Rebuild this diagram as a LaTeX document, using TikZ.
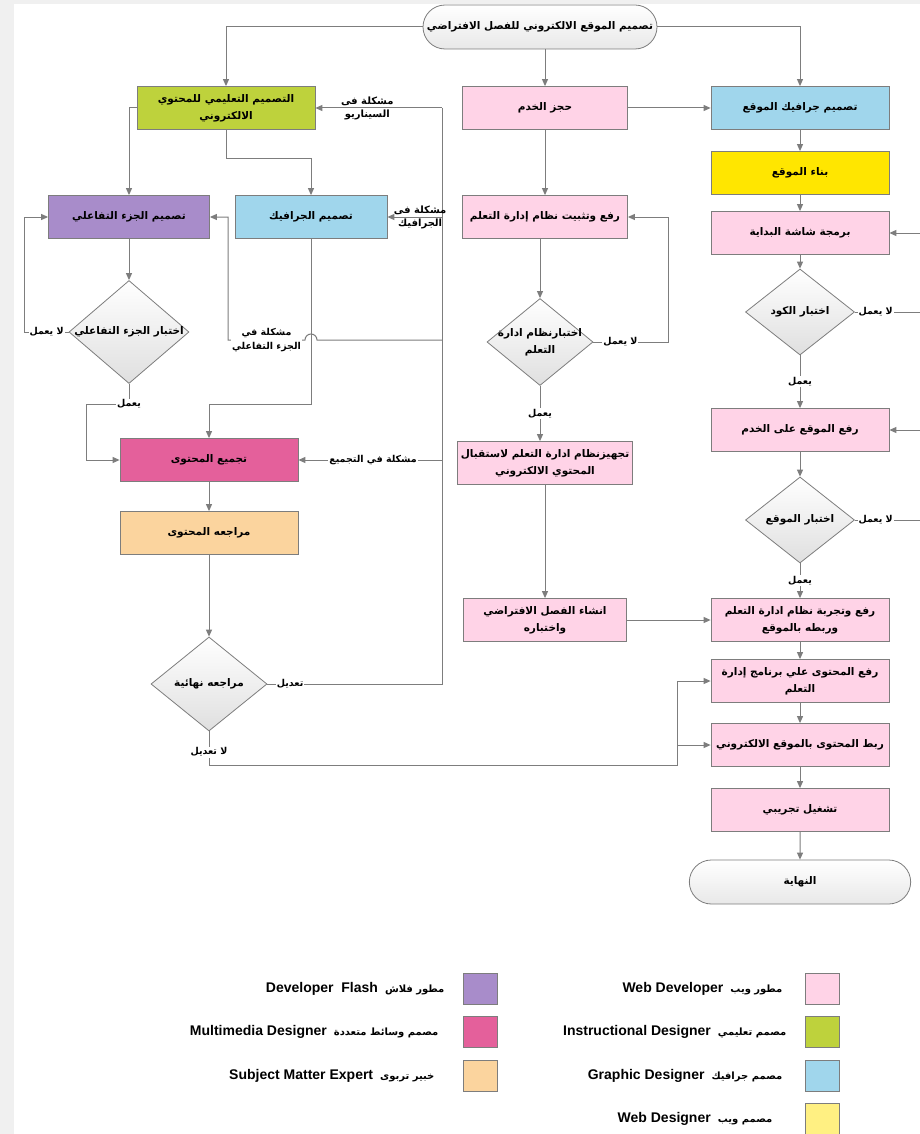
\documentclass[tikz,border=0pt]{standalone}
\usepackage{fontspec}
\setmainfont{Liberation Sans}
\newfontfamily\arabicfont[Script=Arabic]{DejaVu Sans}
\TeXXeTstate=1
\usetikzlibrary{arrows.meta,positioning,shapes.geometric,shapes.misc}
\definecolor{webdev}{RGB}{255,211,231}
\definecolor{instr}{RGB}{190,210,60}
\definecolor{graphic}{RGB}{160,214,236}
\definecolor{webdes}{RGB}{255,230,0}
\definecolor{webdeskey}{RGB}{255,240,130}
\definecolor{flash}{RGB}{168,140,202}
\definecolor{multim}{RGB}{228,96,155}
\definecolor{expert}{RGB}{251,212,158}
\definecolor{edge}{RGB}{125,125,125}
\definecolor{bgstrip}{RGB}{240,240,240}
\newcommand{\artext}[1]{{\arabicfont\bfseries\beginR #1\endR}}
\newcommand{\nowidth}[1]{\makebox[0pt]{\arabicfont\bfseries\beginR #1\endR}}
\newcommand{\keytext}[2]{\beginR{\arabicfont\bfseries\fontsize{10}{12}\selectfont #1}\hspace{7pt}\beginL{\bfseries #2}\endL\endR}
\tikzset{%
	process/.style  = {draw=edge, line width=0.8pt, rectangle, minimum width=178, minimum height=43, text centered, align=center, font=\fontsize{10.5}{17}\selectfont},
	decision/.style = {draw=edge, line width=0.8pt, diamond, top color=white, bottom color=gray!25, inner sep=0pt, align=center, font=\fontsize{10.5}{17}\selectfont},
	startstop/.style= {draw=edge, line width=0.8pt, rounded rectangle, top color=white, bottom color=gray!18, minimum width=228, minimum height=44, font=\fontsize{10.5}{17}\selectfont},
	arrow/.style    = {draw=edge, line width=1pt, -{Triangle[length=7pt,width=6pt]}},
	link/.style     = {draw=edge, line width=1pt},
	tag/.style      = {fill=white, inner sep=1pt, align=center, font=\fontsize{9.5}{14}\selectfont},
	note/.style     = {inner sep=1.5pt, font=\fontsize{10}{13}\selectfont},
	key/.style      = {draw=edge, line width=0.8pt, minimum width=34, minimum height=31},
	keylabel/.style = {inner sep=0pt, font=\fontsize{14}{16}\selectfont},
}
\begin{document}
\begin{tikzpicture}[x=1pt,y=-1pt]
	\useasboundingbox (0,0) rectangle (920,1134);
	\fill[bgstrip] (0,0) rectangle (920,1134);
	\fill[white] (14,4) rectangle (920,1134);

	% rails and bends
	\coordinate (rightrail) at (924,0);
	\coordinate (fixrail) at (442,0);
	\coordinate (mergey) at (0,404);
	\coordinate (okbend) at (86,404);
	\coordinate (hopy) at (0,340);
	\coordinate (ibend) at (228,340);
	\coordinate (nofixbend) at (677,765);

	\node[startstop] (start) at (540,27) {\artext{تصميم الموقع الالكتروني للفصل الافتراضي}};

	% web site column
	\node[process, fill=graphic] (sitegfx) at (800,108) {\artext{تصميم جرافيك الموقع}};
	\node[process, fill=webdes] (build) at (800,173) {\artext{بناء الموقع}};
	\node[process, fill=webdev] (splash) at (800,233) {\artext{برمجة شاشة البداية}};
	\node[decision, minimum width=109, minimum height=86] (codetest) at (800,312) {\nowidth{اختبار الكود}};
	\node[process, fill=webdev] (upload) at (800,430) {\artext{رفع الموقع على الخدم}};
	\node[decision, minimum width=109, minimum height=86] (sitetest) at (800,520) {\nowidth{اختبار الموقع}};
	\node[process, fill=webdev] (lmslink) at (800,620) {\artext{رفع وتجربة نظام ادارة التعلم}\\\artext{وربطه بالموقع}};
	\node[process, fill=webdev] (contup) at (800,681) {\artext{رفع المحتوى علي برنامج إدارة}\\\artext{التعلم}};
	\node[process, fill=webdev] (contlink) at (800,745) {\artext{ربط المحتوى بالموقع الالكتروني}};
	\node[process, fill=webdev] (trial) at (800,810) {\artext{تشغيل تجريبي}};
	\node[startstop] (finish) at (800,882) {\artext{النهاية}};

	% lms column
	\node[process, fill=webdev, minimum width=165] (server) at (545,108) {\artext{حجز الخدم}};
	\node[process, fill=webdev, minimum width=165] (lmsinst) at (545,217) {\artext{رفع وتثبيت نظام إدارة التعلم}};
	\node[decision, minimum width=106, minimum height=87] (lmstest) at (540,342) {\nowidth{اختبارنظام ادارة}\\\nowidth{التعلم}};
	\node[process, fill=webdev, minimum width=168] (lmsprep) at (545,463) {\artext{تجهيزنظام ادارة التعلم لاستقبال}\\\artext{المحتوي الالكتروني}};
	\node[process, fill=webdev, minimum width=163] (vclass) at (545,620) {\artext{انشاء الفصل الافتراضي}\\\artext{واختباره}};

	% content column
	\node[process, fill=instr] (instrbox) at (226,108) {\artext{التصميم التعليمي للمحتوي}\\\artext{الالكتروني}};
	\node[process, fill=flash, minimum width=161] (flashbox) at (129,217) {\artext{تصميم الجزء التفاعلي}};
	\node[process, fill=graphic, minimum width=152] (gfx) at (311,217) {\artext{تصميم الجرافيك}};
	\node[decision, minimum width=120, minimum height=103] (itest) at (129,332) {\nowidth{اختبار الجزء التفاعلي}};
	\node[process, fill=multim] (assemble) at (209,460) {\artext{تجميع المحتوى}};
	\node[process, fill=expert] (review) at (209,533) {\artext{مراجعه المحتوى}};
	\node[decision, minimum width=116, minimum height=94] (final) at (209,684) {\nowidth{مراجعه نهائية}};

	% start
	\draw[arrow] (start.west) -| (instrbox.north);
	\draw[arrow] (start.east) -| (sitegfx.north);
	\draw[arrow] (server.north |- start.south) -- (server.north);

	% web site
	\draw[arrow] (server) -- (sitegfx);
	\draw[arrow] (sitegfx) -- (build);
	\draw[arrow] (build) -- (splash);
	\draw[arrow] (splash) -- (codetest);
	\draw[arrow] (codetest) -- node[tag] {\artext{يعمل}} (upload);
	\draw[arrow] (codetest.east) -- node[tag, pos=0.3] {\artext{لا يعمل}} (codetest.east -| rightrail) |- (splash.east);
	\draw[arrow] (upload) -- (sitetest);
	\draw[arrow] (sitetest) -- node[tag] {\artext{يعمل}} (lmslink);
	\draw[arrow] (sitetest.east) -- node[tag, pos=0.3] {\artext{لا يعمل}} (sitetest.east -| rightrail) |- (upload.east);
	\draw[arrow] (lmslink) -- (contup);
	\draw[arrow] (contup) -- (contlink);
	\draw[arrow] (contlink) -- (trial);
	\draw[arrow] (trial) -- (finish);

	% lms
	\draw[arrow] (server) -- (lmsinst.north -| server);
	\draw[arrow] (lmsinst.south -| lmstest) -- (lmstest);
	\draw[arrow] (lmstest) -- node[tag] {\artext{يعمل}} (lmsprep.north -| lmstest);
	\draw[arrow] (lmstest.east) -- node[tag, pos=0.36] {\artext{لا يعمل}} ([xshift=75pt]lmstest.east) |- (lmsinst.east);
	\draw[arrow] (lmsprep) -- (vclass);
	\draw[arrow] (vclass) -- (lmslink);

	% content
	\draw[arrow] (instrbox.west) -| (flashbox.north);
	\draw[arrow] (instrbox.south) -- ([yshift=-29pt]instrbox.south) -| (gfx.north);
	\draw[arrow] (flashbox) -- (itest);
	\draw[arrow] (itest.west) -- node[tag, pos=0.5] {\artext{لا يعمل}} ([xshift=-44pt]itest.west) |- (flashbox.west);
	\draw[arrow] (itest.south) -- (itest.south |- okbend) node[tag] {\artext{يعمل}} -- (okbend) |- (assemble.west);
	\draw[arrow] (gfx.south) -- (gfx.south |- mergey) -| (assemble.north);
	\draw[arrow] (assemble) -- (review);
	\draw[arrow] (review) -- (final);

	% problems go back
	\draw[link] (final.east) -- node[tag, pos=0.13] {\artext{تعديل}} (final.east -| fixrail) -- (fixrail |- instrbox.east);
	\draw[arrow] (fixrail |- instrbox.east) -- node[note, above, pos=0.59] {\artext{مشكلة فى}} node[note, below, pos=0.59] {\artext{السيناريو}} (instrbox.east);
	\draw[arrow] (fixrail |- gfx.east) -- node[note, above, pos=0.4] {\artext{مشكلة فى}} node[note, below, pos=0.4] {\artext{الجرافيك}} (gfx.east);
	\draw[arrow] (fixrail |- hopy) -- ([xshift=6pt]gfx.south |- hopy) arc[start angle=0, end angle=180, radius=6pt] -- node[tag] {\artext{مشكلة في}\\\artext{الجزء التفاعلي}} (ibend) |- (flashbox.east);
	\draw[arrow] (fixrail |- assemble.east) -- node[tag, pos=0.48] {\artext{مشكلة في التجميع}} (assemble.east);
	\draw[arrow] (final.south) -- node[tag, pos=0.62] {\artext{لا تعديل}} (final.south |- nofixbend) -- (nofixbend) |- (contup.west);
	\draw[arrow] (nofixbend |- contlink.west) -- (contlink.west);

	% key
	\node[key, fill=webdev] (kwebdev) at (822,989) {};
	\node[key, fill=instr] (kinstr) at (822,1032) {};
	\node[key, fill=graphic] (kgraphic) at (822,1076) {};
	\node[key, fill=webdeskey] (kwebdes) at (822,1119) {};
	\node[key, fill=flash] (kflash) at (480,989) {};
	\node[key, fill=multim] (kmultim) at (480,1032) {};
	\node[key, fill=expert] (kexpert) at (480,1076) {};
	\node[keylabel, left=22pt of kwebdev] {\keytext{مطور ويب}{Web Developer}};
	\node[keylabel, left=18pt of kinstr] {\keytext{مصمم تعليمي}{Instructional Designer}};
	\node[keylabel, left=22pt of kgraphic] {\keytext{مصمم جرافيك}{Graphic Designer}};
	\node[keylabel, left=32pt of kwebdes] {\keytext{مصمم ويب}{Web Designer}};
	\node[keylabel, left=18pt of kflash] {\keytext{مطور فلاش}{Developer\ \ Flash}};
	\node[keylabel, left=24pt of kmultim] {\keytext{مصمم وسائط متعددة}{Multimedia Designer}};
	\node[keylabel, left=28pt of kexpert] {\keytext{خبير تربوى}{Subject Matter Expert}};
\end{tikzpicture}
\end{document}
